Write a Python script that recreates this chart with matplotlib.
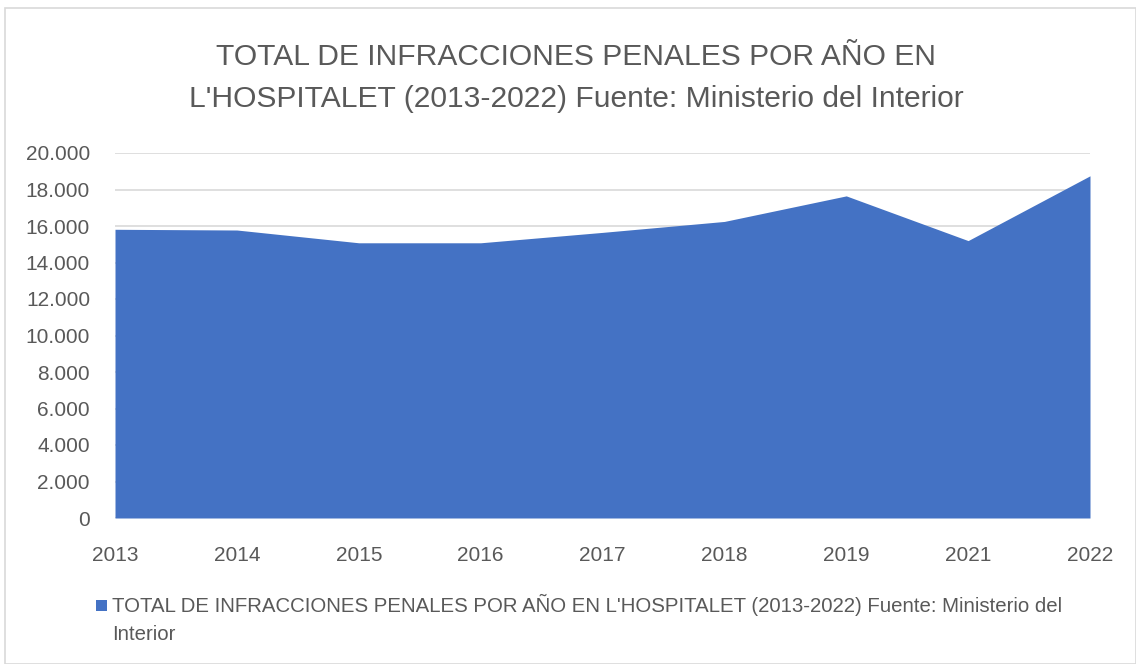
import matplotlib
matplotlib.use("Agg")
import matplotlib.pyplot as plt
from matplotlib.ticker import FuncFormatter, MultipleLocator
from matplotlib.patches import Rectangle

plt.rcParams['font.family'] = ['Liberation Sans Narrow', 'Liberation Sans', 'DejaVu Sans']

years = ["2013", "2014", "2015", "2016", "2017", "2018", "2019", "2021", "2022"]
infracciones = [15820, 15780, 15080, 15080, 15650, 16250, 17650, 15200, 18750]

title = "TOTAL DE INFRACCIONES PENALES POR AÑO EN\nL'HOSPITALET (2013-2022) Fuente: Ministerio del Interior"
legend_label = "TOTAL DE INFRACCIONES PENALES POR AÑO EN L'HOSPITALET (2013-2022) Fuente: Ministerio del\nInterior"

blue = "#4472C4"
text_col = "#595959"

fig = plt.figure(figsize=(11.36, 6.64), dpi=100)
fig.patches.append(Rectangle((5/1136, 0), 1 - 5/1136, 1 - 8/664, transform=fig.transFigure,
                             fill=False, edgecolor="#D9D9D9", linewidth=1.2))

ax = fig.add_axes([115/1136, 146/664, 975/1136, 365/664])
x = list(range(len(years)))
ax.fill_between(x, infracciones, 0, color=blue, linewidth=0, zorder=3)
ax.set_xlim(0, len(years) - 1)
ax.set_ylim(0, 20000)
ax.yaxis.set_major_locator(MultipleLocator(2000))
ax.yaxis.set_major_formatter(FuncFormatter(lambda v, p: f"{int(v):,}".replace(",", ".")))
ax.grid(axis='y', color="#D9D9D9", linewidth=1.2, zorder=0)
ax.set_xticks(x)
ax.set_xticklabels(years)
for s in ax.spines.values():
    s.set_visible(False)
ax.tick_params(axis='both', length=0, labelsize=15, labelcolor=text_col)
ax.tick_params(axis='y', pad=18)
ax.tick_params(axis='x', pad=20)

fig.text(576/1136, 1 - 78/664, title, ha='center', va='center', fontsize=21.6,
         color=text_col, linespacing=1.65)

fig.patches.append(Rectangle((96/1136, 1 - 611/664), 11/1136, 11/664, transform=fig.transFigure,
                             facecolor=blue, edgecolor='none'))
fig.text(112/1136, 1 - 619/664, legend_label, ha='left', va='center', fontsize=14.7,
         color=text_col, linespacing=1.6)

fig.savefig("out.png", dpi=100)
